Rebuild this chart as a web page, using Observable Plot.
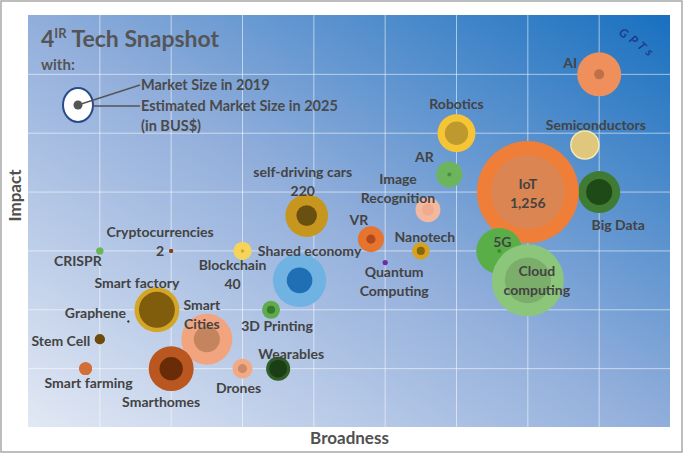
<!DOCTYPE html>
<html><head><meta charset="utf-8">
<script src="https://cdn.jsdelivr.net/npm/d3@7"></script>
<script src="https://cdn.jsdelivr.net/npm/@observablehq/plot@0.6"></script>
<style>body{margin:0;background:#fff;} svg{display:block}</style>
</head><body><div id="chart"></div>
<script>
// ---- data ----
const techs = ["AI","Robotics","Semiconductors","AR","Image Recognition","Big Data","IoT","5G","Cloud computing","self-driving cars","VR","Nanotech","Quantum Computing","Blockchain","Shared economy","Cryptocurrencies","CRISPR","Smart factory","Graphene","Smart Cities","3D Printing","Stem Cell","Smart farming","Smarthomes","Drones","Wearables"];
const broadness = [8.0,6.0,7.8,5.9,5.6,8.0,7.0,6.6,7.0,3.9,4.8,5.5,5.0,3.0,3.8,2.0,1.0,1.8,1.4,2.5,3.4,1.0,0.8,2.0,3.0,3.5];
const impact =    [6.0,5.0,4.8,4.3,3.7,4.0,4.0,3.0,2.5,3.6,3.2,3.0,2.8,3.0,2.5,3.0,3.0,2.0,1.8,1.5,2.0,1.5,1.0,1.0,1.0,1.0];
const size2019 =  [12,66,1,2,17,82,661,2,255,51,10,8,3,1.4,79,2,6,156,0.5,82,8,12,20,66,10,39];
const size2025 =  [234,174,95,82,75,213,1256,255,626,220,82,37,3,40,344,2,6,244,0.5,314,39,12,20,244,48,70];
const labels = ["AI","Robotics","Semiconductors","AR","Image\nRecognition","Big Data","IoT\n1,256","5G","Cloud\ncomputing","self-driving cars\n220","VR","Nanotech","Quantum\nComputing","Blockchain\n40","Shared economy","Cryptocurrencies\n2","CRISPR","Smart factory","Graphene","Smart\nCities","3D Printing","Stem Cell","Smart farming","Smarthomes","Drones","Wearables"];
const gridBroadness = [1,2,3,4,5,6,7,8];
const gridImpact = [1,2,3,4,5,6];

// ---- styles ----
const outerColors = ["#EE8F5C","#F6C535","#DFC87E","#6CB55C","#F4B89E","#3F7B32","#EF7E38","#5AAE48","#8CC67A","#C6961F","#E6732E","#D6A21E","#6B2E9A","#F6D45A","#70B2E2","#8B3A10","#6AB55A","#D4A628","#333333","#F2A47E","#5EAA4C","#6B4C0C","#D26E36","#BA5720","#F2AA84","#2F5E28"];
const innerColors = ["#BF704A","#BE9A2E","#DFC87E","#4E8E40","#EFAA8F","#1E4A18","#DB8553","#3E8A32","#7AAE6A","#6A5010","#B04A1E","#8A6510","#6B2E9A","#C8A83A","#1F6FB5","#8B3A10","#6AB55A","#7F5D0C","#333333","#C4845E","#347A2A","#6B4C0C","#D26E36","#6A2C08","#C98A68","#1C3E16"];
const ringColors = [null,null,"#F5E8B0",null,null,null,null,null,null,null,null,null,null,null,null,null,null,null,null,null,null,null,null,null,null,null];
const labelOffsets = [[-29,-12],[0,-30],[11,-21],[-25,-19],[-30,-22],[19,32],[0,0],[3,-10],[9,-1],[-4,-35],[-12,-20],[4,-15],[9,18],[-10,22],[10,-30],[-11,-11],[-22,9],[-20,-28],[-33,-10],[-5,-26],[6,15],[-39,1],[3,13],[-10,32],[-4,18],[13,-16]];
const FONT = "Lato, 'Open Sans', sans-serif";
const TEXT = "#434343";

const rows = techs.map((t,i)=>({tech:t, x:broadness[i], y:impact[i], s19:size2019[i], s25:size2025[i], label:labels[i]}));
const circles = [];
rows.forEach((d,i)=>{
  circles.push({...d, size:d.s25, fill:outerColors[i]});
  circles.push({...d, size:d.s19, fill:innerColors[i]});
});
const ringed = rows.map((d,i)=>({...d, ring:ringColors[i]})).filter(d=>d.ring);

const background = (index, scales, values, dim) => {
  const L = dim.marginLeft, T = dim.marginTop, W = dim.width - dim.marginLeft - dim.marginRight, H = dim.height - dim.marginTop - dim.marginBottom;
  const g = d3.create("svg:g");
  g.append("rect").attr("x",1).attr("y",1).attr("width",dim.width-4).attr("height",dim.height-4)
    .attr("fill","#fff").attr("stroke","#A8A8A8").attr("stroke-width",1.5);
  const grad = g.append("defs").append("linearGradient").attr("id","bgGrad")
    .attr("x1",0).attr("y1",1).attr("x2",1).attr("y2",0);
  grad.append("stop").attr("offset",0).attr("stop-color","#E2E8F4");
  grad.append("stop").attr("offset",0.5).attr("stop-color","#91AEDB");
  grad.append("stop").attr("offset",1).attr("stop-color","#1870BF");
  g.append("rect").attr("x",L).attr("y",T).attr("width",W).attr("height",H).attr("fill","url(#bgGrad)");
  return g.node();
};

const decor = (index, scales, values, dim) => {
  const L = dim.marginLeft, T = dim.marginTop, R = dim.width - dim.marginRight;
  const g = d3.create("svg:g").attr("font-family", FONT).attr("font-weight","bold").attr("text-anchor","start");
  const title = g.append("text").attr("x", L+13).attr("y", T+32).attr("font-size", 23).attr("fill","#555");
  title.append("tspan").text("4");
  title.append("tspan").attr("font-size", 13).attr("dy", -9).text("IR");
  title.append("tspan").attr("dy", 9).text(" Tech Snapshot");
  g.append("text").attr("x", L+13).attr("y", T+55).attr("font-size", 15).attr("fill","#555").text("with:");
  // legend
  const cx = L+50, cy = T+90;
  g.append("ellipse").attr("cx",cx).attr("cy",cy).attr("rx",15).attr("ry",17).attr("fill","#fff").attr("stroke","#2B4C8C").attr("stroke-width",2);
  g.append("circle").attr("cx",cx).attr("cy",cy).attr("r",4.5).attr("fill","#555");
  g.append("line").attr("x1",cx).attr("y1",cy).attr("x2",L+112).attr("y2",T+70).attr("stroke","#555").attr("stroke-width",1.5);
  g.append("line").attr("x1",cx+15).attr("y1",cy+1).attr("x2",L+112).attr("y2",T+91).attr("stroke","#555").attr("stroke-width",1.5);
  const lt = [["Market Size in 2019",T+71],["Estimated Market Size in 2025",T+92],["(in BUS$)",T+112]];
  lt.forEach(([s,y])=>g.append("text").attr("x",L+113).attr("y",y).attr("dominant-baseline","middle").attr("font-size",14.5).attr("fill","#4A4A4A").text(s));
  // GPTs
  const gp = [["G",-47,19,35],["P",-37,26,40],["T",-29,32,45],["s",-21,38,50]];
  gp.forEach(([c,dx,dy,rot])=>g.append("text").attr("transform",`translate(${R+dx},${T+dy}) rotate(${rot})`)
    .attr("text-anchor","middle").attr("dominant-baseline","middle").attr("font-size",12).attr("font-style","italic").attr("fill","#1E3C8C").text(c));
  return g.node();
};

const labelMarks = rows.map((d,i)=>Plot.text([d], {x:"x", y:"y", text:"label", dx:labelOffsets[i][0], dy:labelOffsets[i][1],
  fontSize:14, fontWeight:"bold", fill:TEXT, fontFamily:FONT, lineHeight:1.36}));

const chart = Plot.plot({
  width: 685, height: 455,
  marginLeft: 28, marginRight: 15, marginTop: 15, marginBottom: 28,
  style: {fontFamily: FONT, background: "transparent"},
  x: {domain:[0,9], axis:null},
  y: {domain:[0,7], axis:null},
  r: {type:"sqrt", domain:[0,1256], range:[0,51]},
  color: {type:"identity"},
  marks: [
    background,
    Plot.ruleX(gridBroadness, {stroke:"#fff", strokeOpacity:0.55, strokeWidth:1}),
    Plot.ruleY(gridImpact, {stroke:"#fff", strokeOpacity:0.55, strokeWidth:1}),
    Plot.dot(circles, {x:"x", y:"y", r:"size", fill:"fill", sort:null}),
    Plot.dot(ringed, {x:"x", y:"y", r:"s25", fill:"none", stroke:"ring", strokeWidth:1.5}),
    ...labelMarks,
    Plot.text(["Broadness"], {frameAnchor:"bottom", dy:16, fontSize:17, fontWeight:"bold", fill:"#505050", fontFamily:FONT}),
    Plot.text(["Impact"], {frameAnchor:"left", dx:-13, rotate:-90, fontSize:17, fontWeight:"bold", fill:"#505050", fontFamily:FONT}),
    decor
  ]
});
document.getElementById("chart").append(chart);
</script>
</body></html>
